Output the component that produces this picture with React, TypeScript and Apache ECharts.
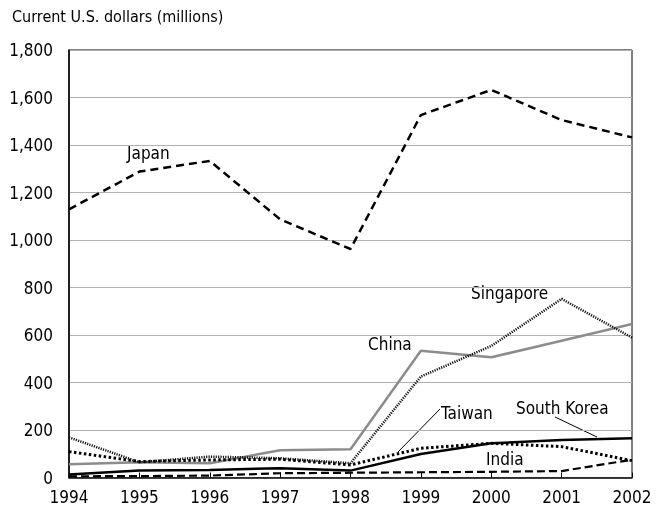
import React, { useEffect, useRef } from "react";
import * as echarts from "echarts";

const years = ["1994", "1995", "1996", "1997", "1998", "1999", "2000", "2001", "2002"];
const japan = [1129, 1288, 1333, 1087, 962, 1526, 1632, 1505, 1432];
const china = [56, 64, 60, 115, 119, 534, 506, 576, 646];
const singapore = [169, 64, 88, 81, 60, 425, 554, 752, 589];
const taiwan = [109, 67, 74, 77, 53, 123, 144, 130, 71];
const southKorea = [13, 29, 32, 39, 29, 99, 144, 158, 165];
const india = [5, 6, 8, 18, 20, 22, 24, 27, 75];
const yTicks = { min: 0, max: 1800, interval: 200 };

const FONT = "'Liberation Sans Narrow', 'Arial Narrow', 'DejaVu Sans Condensed', sans-serif";

export default function App() {
  const ref = useRef<HTMLDivElement>(null);
  useEffect(() => {
    document.body.style.margin = "0";
    const chart = echarts.init(ref.current!, null, { renderer: "svg" });
    const line = (name: string, data: number[], color: string, width: number, type: any) => ({
      name,
      type: "line",
      data,
      symbol: "none",
      lineStyle: { color, width, type },
      z: 3,
    });
    const label = (text: string, x: number, y: number) => ({
      type: "text",
      x,
      y,
      style: { text, fontSize: 17, fontFamily: FONT, fill: "#000" },
    });
    chart.setOption({
      animation: false,
      textStyle: { fontFamily: FONT },
      grid: {
        left: 69,
        right: 30,
        top: 50,
        bottom: 36.5,
        show: true,
        borderColor: "#000",
        borderWidth: 1,
      },
      xAxis: {
        type: "category",
        data: years,
        boundaryGap: false,
        axisLine: { lineStyle: { color: "#000", width: 1.5 } },
        axisTick: { inside: true, length: 5, lineStyle: { color: "#000" } },
        axisLabel: { color: "#000", fontSize: 17, fontFamily: FONT, margin: 11 },
        splitLine: { show: false },
      },
      yAxis: {
        type: "value",
        min: yTicks.min,
        max: yTicks.max,
        interval: yTicks.interval,
        axisLine: { show: true, lineStyle: { color: "#000", width: 1.5 } },
        axisTick: { show: false },
        axisLabel: {
          color: "#000",
          fontSize: 17,
          fontFamily: FONT,
          margin: 16,
          formatter: (v: number) => v.toLocaleString("en-US"),
        },
        splitLine: { lineStyle: { color: "#b0b0b0", width: 1 } },
      },
      series: [
        line("China", china, "#8c8c8c", 2.5, "solid"),
        line("Singapore", singapore, "#111", 2.5, [1.2, 1.2]),
        line("Taiwan", taiwan, "#000", 3, [2.5, 2.5]),
        line("India", india, "#000", 2.2, [8, 4]),
        line("South Korea", southKorea, "#000", 2.5, "solid"),
        line("Japan", japan, "#000", 2.5, [8, 5]),
      ],
      graphic: [
        { type: "text", left: 12, top: 8, style: { text: "Current U.S. dollars (millions)", fontSize: 16, fontFamily: FONT, fill: "#000" } },
        label("Japan", 127, 144),
        label("China", 368, 335),
        label("Singapore", 471, 284),
        label("Taiwan", 441, 404),
        label("South Korea", 516, 399),
        label("India", 486, 450),
        { type: "line", shape: { x1: 440, y1: 409, x2: 398, y2: 452 }, style: { stroke: "#000", lineWidth: 1 } },
        { type: "line", shape: { x1: 555, y1: 417, x2: 597, y2: 437 }, style: { stroke: "#000", lineWidth: 1 } },
      ],
    });
    return () => chart.dispose();
  }, []);
  return <div ref={ref} style={{ position: "fixed", left: 0, top: 0, width: 662, height: 514 }} />;
}
